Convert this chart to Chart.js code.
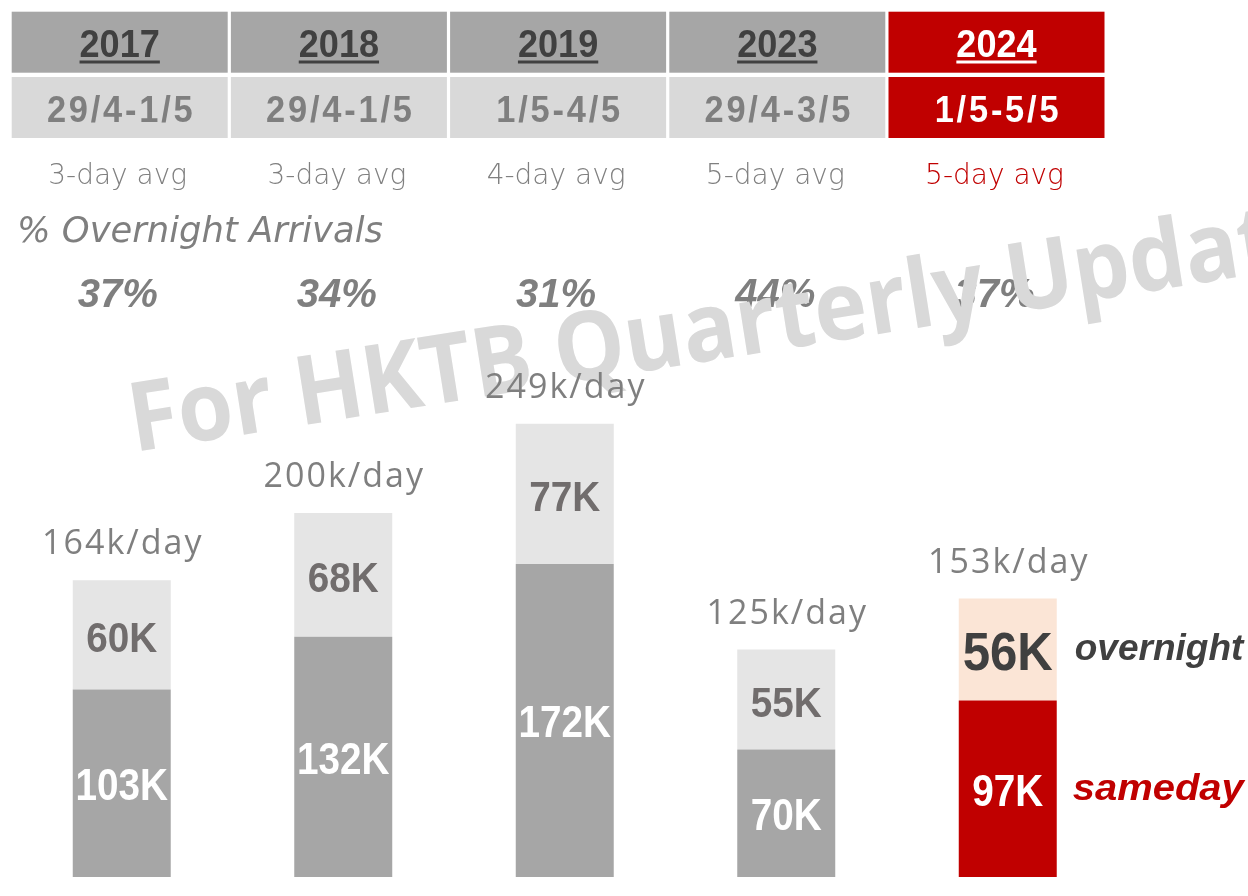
<!DOCTYPE html>
<html>
<head>
<meta charset="utf-8">
<script src="https://cdn.jsdelivr.net/npm/chart.js@4/dist/chart.umd.min.js"></script>
<style>
  html, body { margin: 0; padding: 0; background: #ffffff; }
  #wrap { width: 1248px; height: 896px; position: relative; }
</style>
</head>
<body>
<div id="wrap"><canvas id="c" width="1248" height="896"></canvas></div>
<script>
// ---- data ----
const years = ['2017', '2018', '2019', '2023', '2024'];
const dateRanges = ['29/4-1/5', '29/4-1/5', '1/5-4/5', '29/4-3/5', '1/5-5/5'];
const avgLabels = ['3-day avg', '3-day avg', '4-day avg', '5-day avg', '5-day avg'];
const overnightPct = ['37%', '34%', '31%', '44%', '37%'];
const samedayK = [103, 132, 172, 70, 97];
const overnightK = [60, 68, 77, 55, 56];
const totalLabels = ['164k/day', '200k/day', '249k/day', '125k/day', '153k/day'];
const seriesNames = ['sameday', 'overnight'];
const sectionTitle = '% Overnight Arrivals';
const watermarkText = 'For HKTB Quarterly Update';

// ---- styles ----
const GREY_DARK = '#a6a6a6';
const GREY_LIGHT = '#e5e5e5';
const RED = '#c00000';
const PEACH = '#fbe5d6';

// draw text squeezed/stretched horizontally by sx (align: 'center' | 'left')
function textX(ctx, txt, x, y, sx, align) {
  ctx.save();
  ctx.translate(x, y);
  ctx.scale(sx, 1);
  ctx.textAlign = align || 'center';
  ctx.fillText(txt, 0, 0);
  ctx.restore();
}

const headerPlugin = {
  id: 'header',
  beforeDraw(chart) {
    const ctx = chart.ctx;
    ctx.save();
    const x0 = 11.7, pitch = 219.2, cw = 216;
    ctx.textBaseline = 'alphabetic';
    for (let i = 0; i < years.length; i++) {
      const hl = i === years.length - 1;
      const x = x0 + i * pitch;
      const cx = x + cw / 2;
      // row 1
      ctx.fillStyle = hl ? RED : GREY_DARK;
      ctx.fillRect(x, 11.7, cw, 61);
      ctx.fillStyle = hl ? '#ffffff' : '#404040';
      ctx.font = "bold 38px 'Liberation Sans', Arial, sans-serif";
      ctx.letterSpacing = '0px';
      textX(ctx, years[i], cx, 57, 0.95, 'center');
      const w = ctx.measureText(years[i]).width * 0.95;
      ctx.fillRect(cx - w / 2, 60.5, w, 3);
      // row 2
      ctx.fillStyle = hl ? RED : '#d9d9d9';
      ctx.fillRect(x, 77, cw, 61);
      ctx.fillStyle = hl ? '#ffffff' : '#7f7f7f';
      ctx.font = "bold 37px 'Liberation Sans', Arial, sans-serif";
      ctx.letterSpacing = '3px';
      textX(ctx, dateRanges[i], cx + 1.5, 122, 0.93, 'center');
      ctx.letterSpacing = '0px';
      // avg label
      ctx.fillStyle = hl ? RED : '#808080';
      ctx.font = "200 28px 'DejaVu Sans', sans-serif";
      textX(ctx, avgLabels[i], cx - 2, 184, 1, 'center');
      // percent
      ctx.fillStyle = '#7f7f7f';
      ctx.font = "italic bold 40px 'Liberation Sans', Arial, sans-serif";
      textX(ctx, overnightPct[i], cx - 2, 307, 1, 'center');
    }
    // section title
    ctx.fillStyle = '#7f7f7f';
    ctx.font = "italic 200 35px 'DejaVu Sans', sans-serif";
    textX(ctx, sectionTitle, 17, 242, 1.01, 'left');
    // watermark
    ctx.save();
    ctx.translate(134, 452);
    ctx.rotate(-9 * Math.PI / 180);
    ctx.scale(0.93, 1);
    ctx.fillStyle = '#d9d9d9';
    ctx.font = "bold 96px 'Open Sans', sans-serif";
    ctx.textAlign = 'left';
    ctx.fillText(watermarkText, 0, 0);
    ctx.restore();
    ctx.restore();
  }
};

const labelPlugin = {
  id: 'barLabels',
  afterDatasetsDraw(chart) {
    const ctx = chart.ctx;
    ctx.save();
    ctx.textBaseline = 'alphabetic';
    const metaS = chart.getDatasetMeta(0);
    const metaO = chart.getDatasetMeta(1);
    const last = years.length - 1;
    for (let i = 0; i < years.length; i++) {
      const bs = metaS.data[i];
      const bo = metaO.data[i];
      // sameday label
      const midS = (bs.y + bs.base) / 2;
      ctx.fillStyle = '#ffffff';
      ctx.font = "bold 44px 'Liberation Sans', Arial, sans-serif";
      textX(ctx, samedayK[i] + 'K', bs.x, midS + 17, 0.88, 'center');
      // overnight label
      const midO = (bo.y + bo.base) / 2;
      if (i === last) {
        ctx.fillStyle = '#404040';
        ctx.font = "bold 54px 'Liberation Sans', Arial, sans-serif";
        textX(ctx, overnightK[i] + 'K', bo.x, midO + 20, 0.91, 'center');
      } else {
        ctx.fillStyle = '#716d6d';
        ctx.font = "bold 43px 'Liberation Sans', Arial, sans-serif";
        textX(ctx, overnightK[i] + 'K', bo.x, midO + 17, 0.9, 'center');
      }
      // total label
      ctx.fillStyle = '#7f7f7f';
      ctx.font = "34px 'Open Sans', sans-serif";
      ctx.letterSpacing = '2px';
      textX(ctx, totalLabels[i], bo.x + 1, bo.y - 26, 1, 'center');
      ctx.letterSpacing = '0px';
    }
    // series name labels next to last bar
    const bs = metaS.data[last], bo = metaO.data[last];
    const right = bs.x + bs.width / 2 + 18;
    ctx.textBaseline = 'middle';
    ctx.font = "italic bold 37px 'Liberation Sans', Arial, sans-serif";
    ctx.fillStyle = '#404040';
    textX(ctx, seriesNames[1], right, (bo.y + bo.base) / 2, 1, 'left');
    ctx.fillStyle = RED;
    const wS = ctx.measureText(seriesNames[0]).width;
    textX(ctx, seriesNames[0], right - 2, (bs.y + bs.base) / 2 + 1, 171 / wS, 'left');
    ctx.restore();
  }
};

new Chart(document.getElementById('c'), {
  type: 'bar',
  data: {
    labels: years,
    datasets: [
      {
        label: seriesNames[0],
        data: samedayK,
        backgroundColor: years.map((y, i) => i === years.length - 1 ? RED : GREY_DARK),
        borderWidth: 0,
        barPercentage: 0.4424,
        categoryPercentage: 1
      },
      {
        label: seriesNames[1],
        data: overnightK,
        backgroundColor: years.map((y, i) => i === years.length - 1 ? PEACH : GREY_LIGHT),
        borderWidth: 0,
        barPercentage: 0.4424,
        categoryPercentage: 1
      }
    ]
  },
  options: {
    responsive: false,
    animation: false,
    layout: { padding: { left: 11, right: 129.5, top: 331, bottom: 19 } },
    plugins: { legend: { display: false }, tooltip: { enabled: false } },
    scales: {
      x: { stacked: true, display: false },
      y: { stacked: true, display: false, min: 0, max: 300 }
    }
  },
  plugins: [headerPlugin, labelPlugin]
});
</script>
</body>
</html>
